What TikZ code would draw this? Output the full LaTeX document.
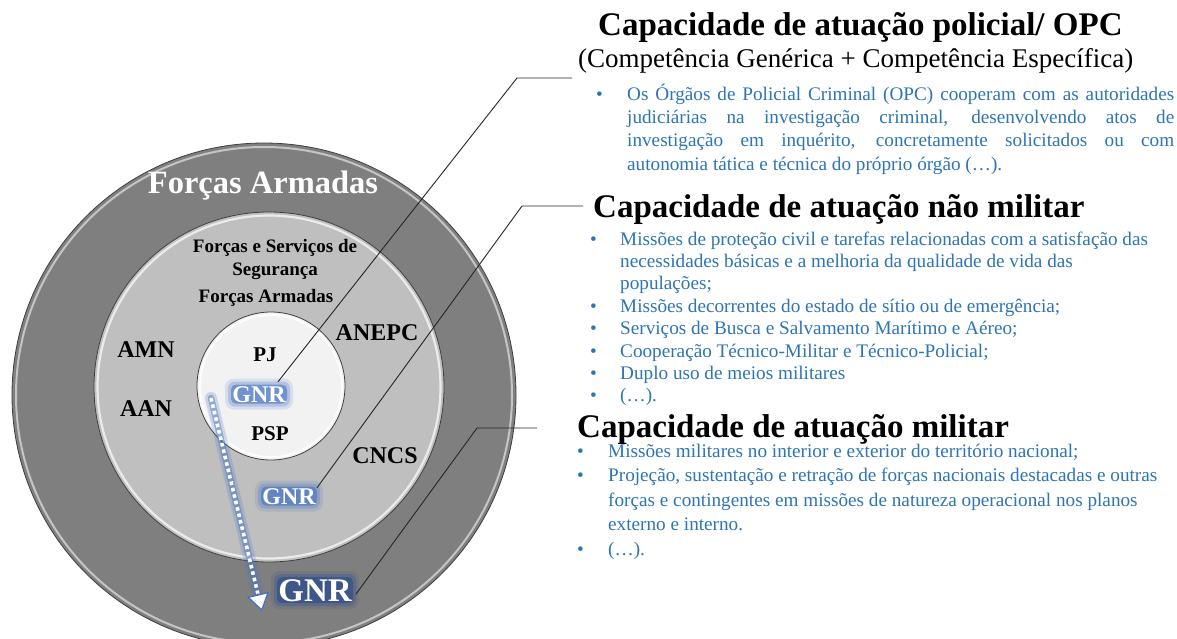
\documentclass[tikz,border=0pt]{standalone}
\usepackage{fontspec}
\setmainfont{Liberation Serif}
\usetikzlibrary{arrows.meta,calc}
\definecolor{ringA}{RGB}{127,127,127}
\definecolor{ringB}{RGB}{191,191,191}
\definecolor{ringC}{RGB}{242,242,242}
\definecolor{txtblue}{RGB}{46,117,182}
\definecolor{glowblue}{RGB}{68,114,196}
\definecolor{darkglow}{RGB}{40,75,140}
\newcommand\fsz[1]{\fontsize{#1}{#1}\selectfont}
% #1 name, #2 x, #3 baseline y, #4 size, #5 glow colour, #6 halo width, #7 halo height
\newcommand\glowlabel[7]{%
  \path[fill=#5, fill opacity=0.15, rounded corners=9pt]
     ($(#2,#3)+(-#6/2-6,-0.33*#4-#7/2-6)$) rectangle ($(#2,#3)+(#6/2+6,-0.33*#4+#7/2+6)$);
  \path[fill=#5, fill opacity=0.25, rounded corners=7pt]
     ($(#2,#3)+(-#6/2-3,-0.33*#4-#7/2-3)$) rectangle ($(#2,#3)+(#6/2+3,-0.33*#4+#7/2+3)$);
  \path[fill=#5, fill opacity=0.6, rounded corners=5pt]
     ($(#2,#3)+(-#6/2,-0.33*#4-#7/2)$) rectangle ($(#2,#3)+(#6/2,-0.33*#4+#7/2)$);
  \node[lbl, font=\bfseries\fsz{#4}, text=white] (#1) at (#2,#3) {GNR};
}
\begin{document}
\begin{tikzpicture}[x=1pt,y=-1pt,
  lbl/.style={inner sep=0pt, anchor=base},
  dark/.style={lbl, text=black, font=\bfseries\fsz{24}},
  conn/.style={draw=black!85, line width=0.9pt},
  ttl/.style={anchor=base west, inner sep=0pt, font=\bfseries\fsz{33}},
  subttl/.style={anchor=base west, inner sep=0pt, font=\fsz{27}},
  bl/.style={anchor=base west, inner sep=0pt, text=txtblue, font=\fsz{19.2}},
  rim/.style={draw=black!75, line width=0.8pt}]
\useasboundingbox (0,0) rectangle (1177,638);
\fill[white] (0,0) rectangle (1177,638);

% rings
\fill[ringA] (264,395) circle[radius=252];
\draw[white, opacity=0.55, line width=2pt] (264,395) circle[radius=248];
\draw[rim] (264,395) circle[radius=252];
\fill[ringB] (269,387) circle[radius=175];
\draw[white, opacity=0.7, line width=2.2pt] (269,387) circle[radius=171.5];
\draw[rim] (269,387) circle[radius=175];
\fill[ringC] (271,386) circle[radius=74];
\draw[white, opacity=0.8, line width=2pt] (271,386) circle[radius=71];
\draw[rim] (271,386) circle[radius=74];

% ring labels
\node[lbl, text=white, font=\bfseries\fsz{32.5}] (fa) at (263,193) {Forças Armadas};
\node[lbl, font=\bfseries\fsz{19}] (fss1) at (275,252) {Forças e Serviços de};
\node[lbl, font=\bfseries\fsz{19}] (fss2) at (275,275) {Segurança};
\node[lbl, font=\bfseries\fsz{19}] (fss3) at (266,302) {Forças Armadas};
\node[dark] (amn) at (146,357) {AMN};
\node[dark] (aan) at (146,416) {AAN};
\node[dark] (anepc) at (377,340) {ANEPC};
\node[dark] (cncs) at (385,463) {CNCS};
\node[lbl, font=\bfseries\fsz{21}] (pj) at (265,361) {PJ};
\node[lbl, font=\bfseries\fsz{21}] (psp) at (270,440) {PSP};

% dotted arrow
\coordinate (arrS) at (211,398);
\coordinate (arrE) at (262,611);
\coordinate (arrB) at ($(arrE)!16pt!(arrS)$);
\draw[glowblue, opacity=0.22, line width=12pt, line cap=round] (arrS) -- (arrB);
\draw[glowblue, opacity=0.45, line width=6.5pt, line cap=round] (arrS) -- (arrB);
\draw[white, line width=3.6pt, dash pattern=on 3.6pt off 3pt] (arrS) -- (arrB);
\draw[glowblue, opacity=0.35, line width=5pt, -{Triangle[length=17pt,width=22pt]}] ($(arrE)!18pt!(arrS)$) -- (arrE);
\draw[glowblue, line width=1.2pt, -{Triangle[length=17pt,width=22pt,fill=white]}] ($(arrE)!18pt!(arrS)$) -- (arrE);

% GNR labels
\glowlabel{gnrA}{259}{402}{24}{glowblue}{56}{19}
\glowlabel{gnrB}{289}{504}{24}{glowblue}{56}{19}
\glowlabel{gnrC}{315}{601}{33}{darkglow}{76}{26}

% connectors
\coordinate (kA) at (517,78);  \coordinate (eA) at (572,78);
\coordinate (kB) at (522,206); \coordinate (eB) at (583,206);
\coordinate (kC) at (477,428); \coordinate (eC) at (537,428);
\draw[conn] ($(gnrA.north east)+(-8,-4)$) -- (kA) -- (eA);
\draw[conn] ($(gnrB.north east)+(1,0)$) -- (kB) -- (eB);
\draw[conn] ($(gnrC.east)+(4,4)$) -- (kC) -- (eC);

% block 1
\node[ttl] (tA) at (598,35) {Capacidade de atuação policial/ OPC};
\node[subttl] (sA) at (578,67) {(Competência Genérica + Competência Específica)};
\node[bl] (dA) at (596,100) {•};
\node[bl] (a1) at (627,100) {\makebox[547pt][s]{Os Órgãos de Policial Criminal (OPC) cooperam com as autoridades}};
\node[bl] (a2) at (627,123.3) {\makebox[547pt][s]{judiciárias na investigação criminal, desenvolvendo atos de}};
\node[bl] (a3) at (627,146.6) {\makebox[547pt][s]{investigação em inquérito, concretamente solicitados ou com}};
\node[bl] (a4) at (627,170) {autonomia tática e técnica do próprio órgão (…).};

% block 2
\node[ttl] (tB) at (593,217) {Capacidade de atuação não militar};
\node[bl] (dB1) at (590,245) {•};
\node[bl] (b1) at (620,245) {Missões de proteção civil e tarefas relacionadas com a satisfação das};
\node[bl] (b2) at (620,267.4) {necessidades básicas e a melhoria da qualidade de vida das};
\node[bl] (b3) at (620,289.8) {populações;};
\node[bl] (dB2) at (590,312.2) {•};
\node[bl] (b4) at (620,312.2) {Missões decorrentes do estado de sítio ou de emergência;};
\node[bl] (dB3) at (590,334.6) {•};
\node[bl] (b5) at (620,334.6) {Serviços de Busca e Salvamento Marítimo e Aéreo;};
\node[bl] (dB4) at (590,357) {•};
\node[bl] (b6) at (620,357) {Cooperação Técnico-Militar e Técnico-Policial;};
\node[bl] (dB5) at (590,379.4) {•};
\node[bl] (b7) at (620,379.4) {Duplo uso de meios militares};
\node[bl] (dB6) at (590,401.8) {•};
\node[bl] (b8) at (620,401.8) {(…).};

% block 3
\node[ttl] (tC) at (577,437) {Capacidade de atuação militar};
\node[bl] (dC1) at (577,457) {•};
\node[bl] (c1) at (608,457) {Missões militares no interior e exterior do território nacional;};
\node[bl] (dC2) at (577,481.5) {•};
\node[bl] (c2) at (608,481.5) {Projeção, sustentação e retração de forças nacionais destacadas e outras};
\node[bl] (c3) at (608,506) {forças e contingentes em missões de natureza operacional nos planos};
\node[bl] (c4) at (608,530.5) {externo e interno.};
\node[bl] (dC3) at (577,555) {•};
\node[bl] (c5) at (608,555) {(…).};
\end{tikzpicture}
\end{document}
